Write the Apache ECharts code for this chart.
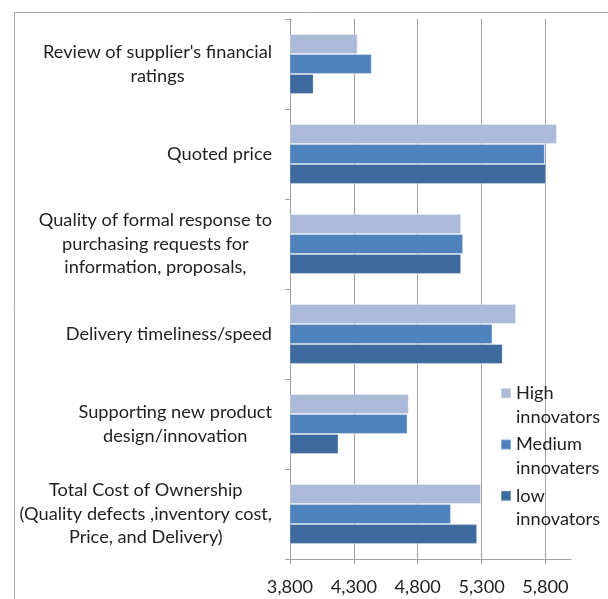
<!DOCTYPE html>
<html>
<head>
<meta charset="utf-8">
<script src="https://cdn.jsdelivr.net/npm/echarts@6/dist/echarts.min.js"></script>
<style>
  html, body { margin: 0; padding: 0; background: #ffffff; }
  #chart { width: 608px; height: 599px; }
</style>
</head>
<body>
<div id="chart"></div>
<script>
// Categories, listed top to bottom as drawn
const categories = [
  "Review of supplier's financial\nratings",
  "Quoted price",
  "Quality of formal response to\npurchasing requests for\ninformation, proposals,",
  "Delivery timeliness/speed",
  "Supporting new product\ndesign/innovation",
  "Total Cost of Ownership\n(Quality defects ,inventory cost,\nPrice, and Delivery)"
];
const seriesNames = ["High innovators", "Medium innovaters", "low innovators"];
const highValues   = [4330, 5890, 5140, 5570, 4730, 5295];
const mediumValues = [4440, 5795, 5155, 5385, 4720, 5060];
const lowValues    = [3985, 5805, 5140, 5465, 4180, 5265];
const xTicks = { min: 3800, max: 6000, step: 500 };

const FONT = 'Lato';
const FS = 18.2;
const TXT = '#1f1f1f';
const GRIDC = '#a0a0a0';
const colors = ['#abbad9', '#4f81bd', '#3e6a9e'];

const chart = echarts.init(document.getElementById('chart'), null, { renderer: 'canvas' });

const mkSeries = (name, data, color) => ({
  name: name,
  type: 'bar',
  data: data,
  barGap: '0%',
  barCategoryGap: '33.3%',
  itemStyle: { color: color, borderColor: 'rgba(255,255,255,0.3)', borderWidth: 1 },
  emphasis: { disabled: true },
  animation: false
});

chart.setOption({
  backgroundColor: '#ffffff',
  animation: false,
  textStyle: { fontFamily: FONT },
  graphic: [{
    type: 'rect',
    left: 12, top: 10,
    shape: { width: 594, height: 650 },
    style: { fill: 'none', stroke: '#a6a6a6', lineWidth: 1 },
    silent: true
  }],
  grid: { left: 290, top: 19, right: 37, bottom: 40, containLabel: false },
  legend: {
    orient: 'vertical',
    left: 500, top: 358,
    padding: 0,
    itemWidth: 10, itemHeight: 10,
    itemGap: -19.2,
    icon: 'rect',
    data: seriesNames,
    formatter: n => '\u00a0\n' + n.replace(' ', '\n'),
    textStyle: { fontFamily: FONT, fontSize: FS, lineHeight: 23.5, color: TXT }
  },
  xAxis: {
    type: 'value',
    min: xTicks.min, max: xTicks.max, interval: xTicks.step,
    axisLine: { show: true, lineStyle: { color: GRIDC, width: 1 } },
    axisTick: { show: true, inside: false, length: 5, lineStyle: { color: GRIDC } },
    axisLabel: {
      showMaxLabel: false,
      margin: 19,
      color: TXT, fontFamily: FONT, fontSize: FS,
      formatter: v => v.toLocaleString('en-US')
    },
    splitLine: { show: true, showMinLine: false, showMaxLine: false, lineStyle: { color: GRIDC, width: 1 } }
  },
  yAxis: {
    type: 'category',
    inverse: true,
    data: categories,
    axisLine: { show: true, lineStyle: { color: GRIDC, width: 1 } },
    axisTick: { show: true, inside: false, length: 5, alignWithLabel: false, lineStyle: { color: GRIDC } },
    axisLabel: {
      margin: 18,
      align: 'right',
      formatter: v => v.split('\n').map(s => '{c|' + s + '}').join('\n'),
      rich: { c: { align: 'center', fontFamily: FONT, fontSize: FS, lineHeight: 23.5, color: TXT } }
    },
    splitLine: { show: false }
  },
  series: [
    mkSeries(seriesNames[0], highValues, colors[0]),
    mkSeries(seriesNames[1], mediumValues, colors[1]),
    mkSeries(seriesNames[2], lowValues, colors[2])
  ]
});
</script>
</body>
</html>
